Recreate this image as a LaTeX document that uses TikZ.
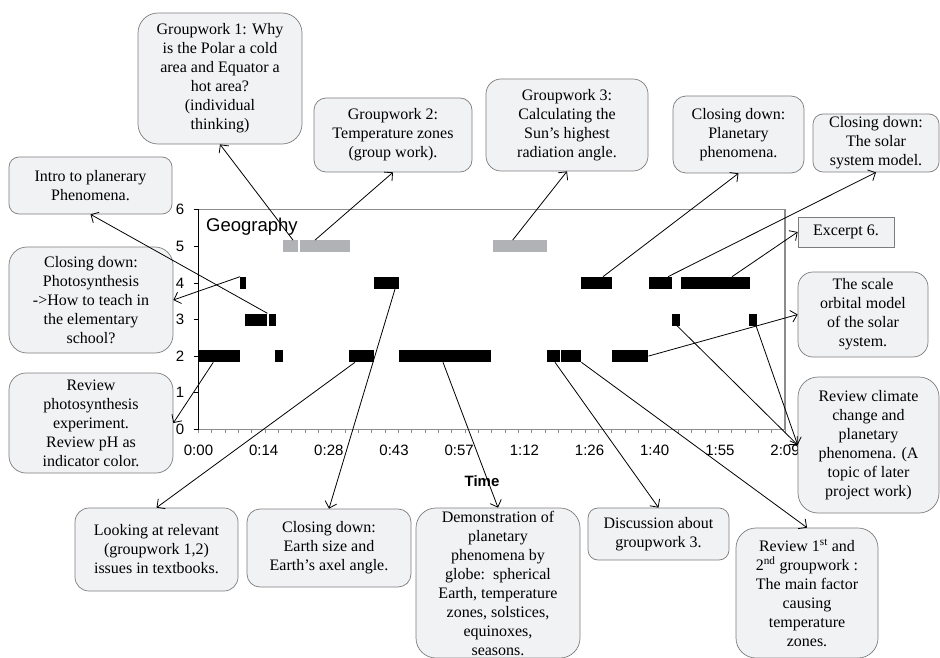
\documentclass[tikz,border=0pt]{standalone}
\usepackage{fontspec}
\setmainfont{Liberation Serif}
\newfontfamily\axisfont{Liberation Sans}
\usetikzlibrary{arrows.meta}
\definecolor{boxfill}{RGB}{241,242,244}
\definecolor{boxline}{RGB}{125,125,125}
\definecolor{axisgray}{RGB}{140,140,140}
\definecolor{bargray}{RGB}{176,178,182}
\begin{document}
\begin{tikzpicture}[x=1pt,y=-1pt,
  note/.style={draw=boxline, fill=boxfill, line width=0.7pt, align=center,
    inner sep=0pt, font=\fontsize{16}{19}\selectfont},
  blackbar/.style={fill=black, inner sep=0pt, minimum height=12pt, anchor=west},
  graybar/.style={fill=bargray, inner sep=0pt, minimum height=12pt, anchor=west},
  link/.style={line width=0.8pt, -{Straight Barb[length=6pt,width=12pt]}},
  ticklabel/.style={inner sep=0pt, font=\axisfont\fontsize{15}{18}\selectfont}]
\useasboundingbox (0,0) rectangle (940,658);

% chart frame
\draw[axisgray, line width=1.2pt] (198.5,209.7) -- (785,209.7) -- (785,429.3);
\draw[axisgray, line width=1.5pt] (198.5,429.3) -- (785,429.3);
\foreach \i in {0,...,44}
  \draw[axisgray, line width=0.8pt] ({198.5+\i*13.33},429.3) -- ++(0,4);
\draw[line width=0.8pt] \foreach \v in {0,...,6} { (193.5,{429.3-\v*36.6}) -- (198.5,{429.3-\v*36.6}) };
\draw[line width=1.8pt] (198.5,209.7) -- (198.5,429.3);

% axis labels
\foreach \v in {0,...,6}
  \node[ticklabel] (ylab\v) at (180,{429.3-\v*36.6}) {\v};
\foreach \t [count=\i from 0] in {0:00,0:14,0:28,0:43,0:57,1:12,1:26,1:40,1:55,2:09}
  \node[ticklabel] (xlab\i) at ({198.5+\i*65.17},450) {\t};
\node[ticklabel, font=\axisfont\bfseries\fontsize{15}{18}\selectfont] (xtitle) at (482,481) {Time};
\node[anchor=west, inner sep=0pt, font=\axisfont\fontsize{18.5}{22}\selectfont] (title) at (206,227) {Geography};

% activity bars
\node[graybar, minimum width=15pt] (g1) at (283,246.3) {};
\node[graybar, minimum width=50pt] (g2) at (300,246.3) {};
\node[graybar, minimum width=54pt] (g3) at (492.7,246.3) {};
\node[blackbar, minimum width=6pt] (k4a) at (240,282.9) {};
\node[blackbar, minimum width=25pt] (k4b) at (374,282.9) {};
\node[blackbar, minimum width=31pt] (k4c) at (581,282.9) {};
\node[blackbar, minimum width=23pt] (k4d) at (649,282.9) {};
\node[blackbar, minimum width=69pt] (k4e) at (681,282.9) {};
\node[blackbar, minimum width=22pt] (k3a) at (245,319.5) {};
\node[blackbar, minimum width=7pt] (k3b) at (269,319.5) {};
\node[blackbar, minimum width=8pt] (k3c) at (672,319.5) {};
\node[blackbar, minimum width=7.3pt] (k3d) at (749,319.5) {};
\node[blackbar, minimum width=41.7pt] (k2a) at (198.3,356.1) {};
\node[blackbar, minimum width=8pt] (k2b) at (275,356.1) {};
\node[blackbar, minimum width=25pt] (k2c) at (349,356.1) {};
\node[blackbar, minimum width=92pt] (k2d) at (399,356.1) {};
\node[blackbar, minimum width=13pt] (k2e) at (547,356.1) {};
\node[blackbar, minimum width=20pt] (k2f) at (561,356.1) {};
\node[blackbar, minimum width=36pt] (k2g) at (612,356.1) {};

% callouts
\node[note, rounded corners=20pt, minimum width=164pt, minimum height=131pt] (gw1) at (220,78.5)
  {Groupwork 1: Why\\ is the Polar a cold\\ area and Equator a\\ hot area?\\ (individual\\ thinking)};
\node[note, rounded corners=12pt, minimum width=158pt, minimum height=74pt] (gw2) at (393,135)
  {Groupwork 2:\\ Temperature zones\\ (group work).};
\node[note, rounded corners=10pt, minimum width=163pt, minimum height=57pt] (intro) at (90.5,185.5)
  {Intro to planerary\\ Phenomena.};
\node[note, rounded corners=15pt, minimum width=162pt, minimum height=92pt] (gw3) at (567,125)
  {Groupwork 3:\\ Calculating the\\ Sun’s highest\\ radiation angle.};
\node[note, rounded corners=13pt, minimum width=131pt, minimum height=77pt] (cdplan) at (738.5,134.5)
  {Closing down:\\ Planetary\\ phenomena.};
\node[note, rounded corners=10pt, minimum width=126pt, minimum height=58pt] (cdsolar) at (876,143)
  {Closing down:\\ The solar\\ system model.};
\node[note, minimum width=96pt, minimum height=30pt] (excerpt) at (846,232)
  {Excerpt 6.};
\node[note, rounded corners=18pt, minimum width=164pt, minimum height=106pt] (cdphoto) at (91,300)
  {Closing down:\\ Photosynthesis\\ ->How to teach in\\ the elementary\\ school?};
\node[note, rounded corners=17pt, minimum width=164pt, minimum height=100pt] (rp) at (91,423)
  {Review\\ photosynthesis\\ experiment.\\ Review pH as\\ indicator color.};
\node[note, rounded corners=15pt, minimum width=130pt, minimum height=85pt] (scale) at (863,314.5)
  {The scale\\ orbital model\\ of the solar\\ system.};
\node[note, rounded corners=20pt, minimum width=141pt, minimum height=136pt] (climate) at (868.5,445)
  {Review climate\\ change and\\ planetary\\ phenomena. (A\\ topic of later\\ project work)};
\node[note, rounded corners=14pt, minimum width=163pt, minimum height=83pt] (looking) at (156.5,549.5)
  {Looking at relevant\\ (groupwork 1,2)\\ issues in textbooks.};
\node[note, rounded corners=13pt, minimum width=164pt, minimum height=78pt] (cdearth) at (329,548)
  {Closing down:\\ Earth size and\\ Earth’s axel angle.};
\node[note, rounded corners=20pt, minimum width=164pt, minimum height=150pt] (demo) at (498,583)
  {Demonstration of\\ planetary\\ phenomena by\\ globe:\ \ spherical\\ Earth, temperature\\ zones, solstices,\\ equinoxes,\\ seasons.};
\node[note, rounded corners=10pt, minimum width=141pt, minimum height=52pt] (disc) at (658.5,534)
  {Discussion about\\ groupwork 3.};
\node[note, rounded corners=20pt, minimum width=142pt, minimum height=130pt] (review1) at (807,593)
  {Review 1\textsuperscript{st} and\\ 2\textsuperscript{nd} groupwork :\\ The main factor\\ causing\\ temperature\\ zones.};

% connectors from activities to their descriptions
\draw[link] ([xshift=10pt]g1.north west) -- (gw1.south);
\draw[link] ([xshift=15pt]g2.north west) -- (gw2.south);
\draw[link] (k3a.north east) -- (intro.south);
\draw[link] (k4a.north west) -- (cdphoto.east);
\draw[link] ([xshift=15pt]k2a.south west) -- (rp.east);
\draw[link] ([xshift=20pt]g3.north west) -- (gw3.south);
\draw[link] ([xshift=22pt]k4c.north west) -- (cdplan.south);
\draw[link] ([xshift=19pt]k4d.north west) -- (cdsolar.south);
\draw[link] ([xshift=51pt]k4e.north west) -- (excerpt.west);
\draw[link] (k2g.east) -- (scale.west);
\draw[link] ([xshift=5pt]k3c.south west) -- (climate.west);
\draw[link] ([xshift=7pt]k3d.south west) -- (climate.west);
\draw[link] ([xshift=6pt]k2c.south west) -- (looking.north);
\draw[link] ([xshift=21pt]k4b.south west) -- (cdearth.north);
\draw[link] ([xshift=44pt]k2d.south west) -- (demo.north);
\draw[link] ([xshift=8pt]k2e.south west) -- (disc.north);
\draw[link] (k2f.south east) -- (review1.north);
\end{tikzpicture}
\end{document}
